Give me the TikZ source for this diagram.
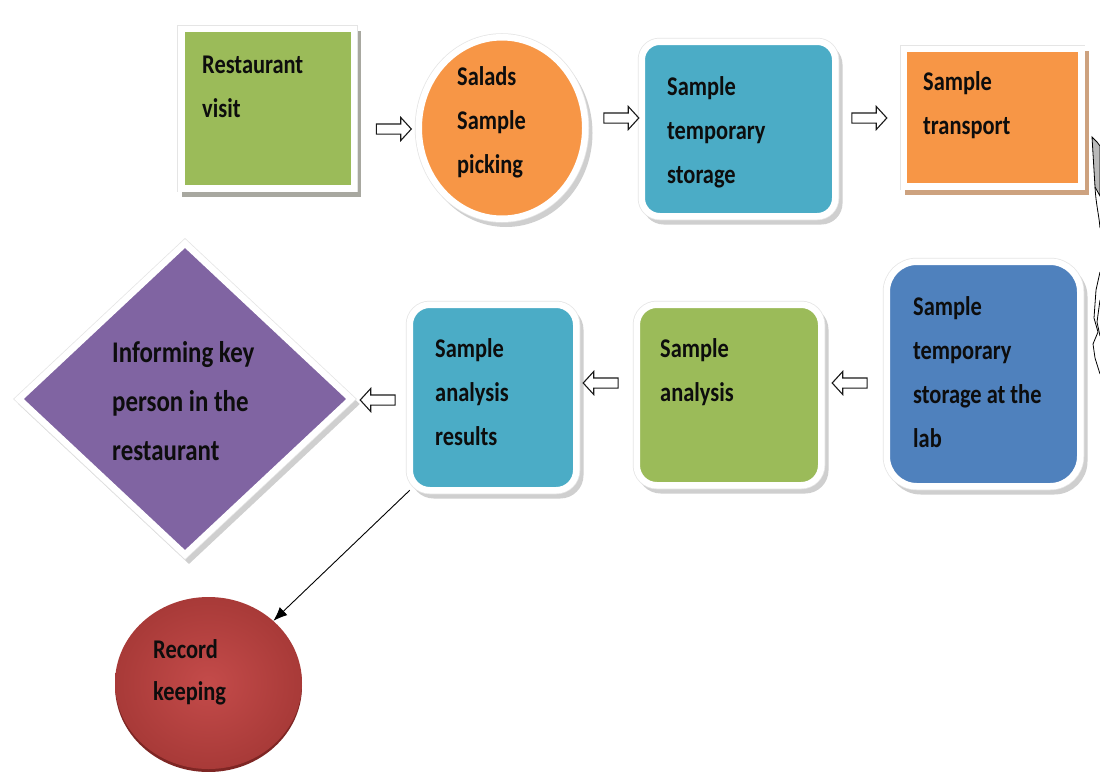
\documentclass[tikz,border=0pt]{standalone}
\usepackage{fontspec}
\setmainfont{Carlito}[FakeStretch=0.83]
\usetikzlibrary{shapes.geometric,shapes.arrows,arrows.meta,calc}
\definecolor{cgreen}{HTML}{9BBB59}
\definecolor{corange}{HTML}{F79646}
\definecolor{cteal}{HTML}{4BACC6}
\definecolor{cblue}{HTML}{4F81BD}
\definecolor{cpurple}{HTML}{8064A2}
\definecolor{credin}{HTML}{C44B4A}
\definecolor{credout}{HTML}{A83A38}
\definecolor{credrim}{HTML}{7E2624}
\definecolor{shgrey}{HTML}{A8A8A0}
\definecolor{shsoft}{HTML}{CFCFCF}
\definecolor{shbrown}{HTML}{CDA27F}
\begin{document}
\begin{tikzpicture}[x=1pt,y=-1pt,
  glow/.style={draw=white, line width=6.5pt, inner sep=0pt, outer sep=0pt,
    preaction={draw=#1, fill=#1, line width=6.5pt, transform canvas={xshift=4pt,yshift=-5pt}},
    preaction={draw=gray!20, line width=8pt}},
  glow/.default=shsoft,
  boxshape/.style={rectangle, glow=#1},
  boxshape/.default=shsoft,
  barrow/.style={single arrow, draw=black!90, fill=white, line width=1.1pt,
    inner xsep=0pt, inner ysep=4.5pt, minimum height=35pt,
    single arrow head extend=6.5pt, single arrow tip angle=95},
  larrow/.style={barrow, shape border rotate=180},
  txt/.style={anchor=base west, align=left, inner sep=0pt,
    font=\bfseries\fontsize{27}{44}\selectfont, text=black!95},
  conn/.style={draw=black, line width=0.9pt, -{Latex[length=14pt,width=11pt]}}
]
\clip (0,0) rectangle (1100,771);
\fill[white] (0,0) rectangle (1100,771);

% top row
\node[boxshape=shgrey, fill=cgreen, minimum width=172.5pt, minimum height=159.5pt] (rv) at (267.5,108.5) {};
\node[ellipse, glow, fill=corange, minimum width=166.5pt, minimum height=181.5pt] (sp) at (502,128) {};
\node[boxshape, fill=cteal, rounded corners=18pt, minimum width=193.5pt, minimum height=174.5pt] (ts) at (738.5,129) {};
\node[boxshape=shbrown, fill=corange, minimum width=177.5pt, minimum height=137.5pt] (tr) at (992.5,117.5) {};

% bottom row
\node[boxshape, fill=cblue, rounded corners=30pt, minimum width=193.5pt, minimum height=224.5pt] (ls) at (983.5,374) {};
\node[boxshape, fill=cgreen, rounded corners=20pt, minimum width=184.5pt, minimum height=180.5pt] (sa) at (729,395) {};
\node[boxshape, fill=cteal, rounded corners=20pt, minimum width=166.5pt, minimum height=185.5pt] (res) at (493,397.5) {};
\node[diamond, glow, fill=cpurple, minimum width=332pt, minimum height=311pt] (inf) at (185,399) {};

% record keeping
\node[ellipse, inner sep=0pt, minimum width=187pt, minimum height=172pt,
  preaction={fill=credrim, transform canvas={yshift=-3pt}},
  shading=radial, inner color=credin, outer color=credout] (rec) at (208.5,683) {};

% texts (anchor = baseline of the last line)
\node[txt] (trv) at (202,117) {Restaurant\\visit};
\node[txt] (tsp) at (457,173) {Salads\\Sample\\picking};
\node[txt] (tts) at (667,183) {Sample\\temporary\\storage};
\node[txt] (ttr) at (923,134) {Sample\\transport};
\node[txt] (tls) at (913,447) {Sample\\temporary\\storage at the\\lab};
\node[txt] (tsa) at (660,401) {Sample\\analysis};
\node[txt] (tres) at (435,445) {Sample\\analysis\\results};
\node[txt, font=\bfseries\fontsize{30}{49}\selectfont] (tinf) at (112,460) {Informing key\\person in the\\restaurant};
\node[txt, font=\bfseries\fontsize{27}{42}\selectfont] (trec) at (153,700) {Record\\keeping};

% block arrows
\node[barrow] (a1) at (391.5,129) {};
\node[barrow] (a2) at (619,118) {};
\node[barrow] (a3) at (867,118) {};
\node[larrow] (a4) at (852,383) {};
\node[larrow] (a5) at (603,383) {};
\node[larrow] (a6) at (380,400) {};

% connector to record keeping
\draw[conn] (res.south west) -- (rec);

% curved arrow cut by the right edge
\draw[black, line width=0.8pt, fill=gray!55] (1092,137) -- (1097,142) -- (1100,146) -- (1100,196) -- (1095,187) -- cycle;
\draw[black, line width=0.8pt] (1095,187) .. controls (1096,205) and (1099,215) .. (1100,228);
\draw[black, line width=0.8pt] (1100,272) -- (1096,290) -- (1094,318) -- (1098,332) -- (1093,344) -- (1095,358) -- (1100,374);
\draw[black, line width=0.8pt] (1100,300) -- (1097,322) -- (1100,336);
\end{tikzpicture}
\end{document}
